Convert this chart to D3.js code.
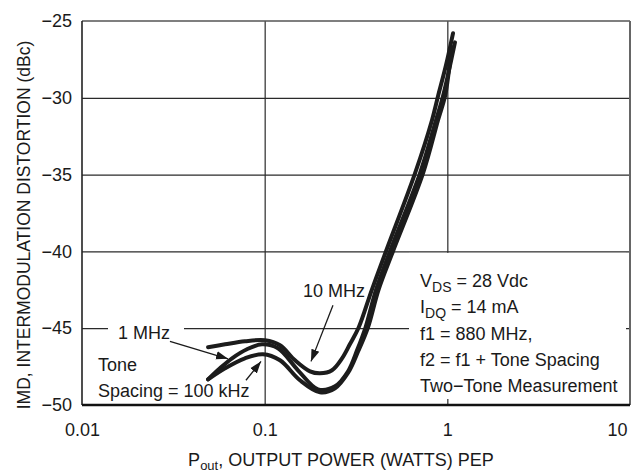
<!DOCTYPE html>
<html>
<head>
<meta charset="utf-8">
<script src="https://cdn.jsdelivr.net/npm/d3@7"></script>
<style>
  html, body { margin: 0; padding: 0; background: #fff; }
  svg { display: block; }
  text { font-family: "Liberation Sans Narrow", "Arial Narrow", "Liberation Sans", sans-serif; fill: #1a1a1a; }
</style>
</head>
<body>
<svg id="chart" width="644" height="474"></svg>
<script>
// ---- data ----
const xTicks = [0.01, 0.1, 1, 10];
const xTickLabels = ["0.01", "0.1", "1", "10"];
const yTicks = [-50, -45, -40, -35, -30, -25];

const seriesNames = ["10 MHz", "1 MHz", "100 kHz"];

const p10MHz   = [0.049, 0.0607, 0.078, 0.1004, 0.1213, 0.1466, 0.1771, 0.2008, 0.2337, 0.2640, 0.2932, 0.3275, 0.3860, 0.4615, 0.6653, 0.8241, 0.889, 0.983, 1.074];
const imd10MHz = [-46.24, -46.05, -45.85, -45.79, -46.11, -47.09, -47.81, -47.94, -47.74, -47.0, -46.03, -44.94, -42.5, -39.99, -34.92, -31.46, -29.90, -27.88, -25.80];

const p1MHz    = [0.049, 0.0569, 0.0663, 0.080, 0.0967, 0.1183, 0.1522, 0.1959, 0.2427, 0.2863, 0.3212, 0.3568, 0.4070, 0.4855, 0.7083, 0.8669, 0.9467, 1.101];
const imd1MHz  = [-48.33, -47.61, -46.96, -46.37, -46.05, -46.31, -47.74, -48.98, -48.78, -47.80, -46.41, -44.94, -42.5, -39.99, -34.92, -31.46, -29.90, -26.39];

const p100kHz   = [0.049, 0.0607, 0.078, 0.0979, 0.1213, 0.156, 0.2008, 0.2427, 0.2863, 0.3250, 0.3679, 0.4200, 0.5041, 0.7358, 0.889, 0.971, 1.021, 1.061];
const imd100kHz = [-48.33, -47.61, -46.96, -46.70, -47.09, -48.39, -49.17, -48.91, -47.90, -46.50, -44.94, -42.5, -39.99, -34.92, -31.46, -29.90, -28.21, -26.71];

const conditionLines = [
  [["V", ""], ["DS", "sub"], [" = 28 Vdc", ""]],
  [["I", ""], ["DQ", "sub"], [" = 14 mA", ""]],
  [["f1 = 880 MHz,", ""]],
  [["f2 = f1 + Tone Spacing", ""]],
  [["Two\u2212Tone Measurement", ""]]
];

// ---- layout ----
const W = 644, H = 474;
const margin = { left: 82, top: 21, right: 14, bottom: 69 };
const plotW = W - margin.left - margin.right;
const plotH = H - margin.top - margin.bottom;

const svg = d3.select("#chart");
const g = svg.append("g").attr("transform", `translate(${margin.left},${margin.top})`);

const x = d3.scaleLog().domain([0.01, 10]).range([0, plotW]);
const y = d3.scaleLinear().domain([-50, -25]).range([plotH, 0]);

// gridlines
const gridColor = "#2a2a2a";
const gx = g.append("g").attr("class", "gridx")
  .call(d3.axisBottom(x).tickValues(xTicks.slice(1, -1)).tickSize(plotH).tickFormat(""));
gx.select(".domain").remove();
gx.selectAll("line").attr("stroke", gridColor).attr("stroke-width", 1.2);

const gy = g.append("g").attr("class", "gridy")
  .call(d3.axisLeft(y).tickValues(yTicks.slice(1, -1)).tickSize(-plotW).tickFormat(""));
gy.select(".domain").remove();
gy.selectAll("line").attr("stroke", gridColor).attr("stroke-width", 1.2);

// white patches behind labels (gridline gaps)
const boxLeftPx = 409 - margin.left;
g.append("rect").attr("x", boxLeftPx).attr("y", y(-40) + 1.5)
  .attr("width", plotW - 4 - boxLeftPx).attr("height", plotH - 6 - (y(-40) + 1.5))
  .attr("fill", "#fff");
g.append("rect").attr("x", 108 - margin.left).attr("y", y(-45) - 8)
  .attr("width", 76).attr("height", 16).attr("fill", "#fff");

// frame
g.append("line").attr("x1", 0).attr("x2", plotW).attr("y1", 0).attr("y2", 0)
  .attr("stroke", "#555").attr("stroke-width", 1.6);
g.append("line").attr("x1", plotW).attr("x2", plotW).attr("y1", 0).attr("y2", plotH)
  .attr("stroke", "#666").attr("stroke-width", 2);
g.append("line").attr("x1", 0).attr("x2", 0).attr("y1", 0).attr("y2", plotH)
  .attr("stroke", "#222").attr("stroke-width", 1.6);
g.append("line").attr("x1", 0).attr("x2", plotW).attr("y1", plotH).attr("y2", plotH)
  .attr("stroke", "#111").attr("stroke-width", 2.6);

// axes labels
const ax = g.append("g").attr("transform", `translate(0,${plotH})`)
  .call(d3.axisBottom(x).tickValues(xTicks).tickSize(0).tickPadding(18)
    .tickFormat((d, i) => xTickLabels[i]));
ax.select(".domain").remove();
ax.selectAll("text").style("font-size", "18px").attr("fill", "#1a1a1a");
ax.selectAll("text").filter((d, i) => i === xTicks.length - 1).attr("text-anchor", "end").attr("dx", "-3");

const ay = g.append("g")
  .call(d3.axisLeft(y).tickValues(yTicks).tickSize(0).tickPadding(10).tickFormat(d3.format("d")));
ay.select(".domain").remove();
ay.selectAll("text").style("font-size", "18px").attr("fill", "#1a1a1a");

// axis titles
svg.append("text")
  .attr("transform", `translate(30,${margin.top + plotH / 2 + 12}) rotate(-90)`)
  .attr("text-anchor", "middle").style("font-size", "17.5px")
  .text("IMD, INTERMODULATION DISTORTION (dBc)");

const xt = svg.append("text").attr("x", margin.left + plotW / 2 - 15).attr("y", 466)
  .attr("text-anchor", "middle").style("font-size", "18px");
xt.append("tspan").text("P");
xt.append("tspan").attr("dy", 4).style("font-size", "13px").text("out");
xt.append("tspan").attr("dy", -4).text(", OUTPUT POWER (WATTS) PEP");

// curves
const line = d3.line().x(d => x(d[0])).y(d => y(d[1])).curve(d3.curveCatmullRom.alpha(0.5));
const series = [
  d3.zip(p10MHz, imd10MHz),
  d3.zip(p1MHz, imd1MHz),
  d3.zip(p100kHz, imd100kHz)
];
g.selectAll("path.curve").data(series).join("path")
  .attr("class", "curve")
  .attr("d", line)
  .attr("fill", "none").attr("stroke", "#1c1c1c").attr("stroke-width", 4)
  .attr("stroke-linecap", "round").attr("stroke-linejoin", "round");

// arrow marker
svg.append("defs").append("marker")
  .attr("id", "arrow").attr("viewBox", "0 0 10 10").attr("refX", 10).attr("refY", 5)
  .attr("markerWidth", 12).attr("markerHeight", 12).attr("markerUnits", "userSpaceOnUse")
  .attr("orient", "auto")
  .append("path").attr("d", "M0,1.5 L10,5 L0,8.5 Z").attr("fill", "#1a1a1a");

const arrows = [
  { from: [0.2366, -43.51], to: [0.1793, -47.16] }, // 10 MHz
  { from: [0.0303, -45.85], to: [0.063, -46.99] },  // 1 MHz
  { from: [0.079, -48.39], to: [0.0955, -47.16] }    // 100 kHz
];
g.selectAll("line.arrow").data(arrows).join("line")
  .attr("class", "arrow")
  .attr("x1", d => x(d.from[0])).attr("y1", d => y(d.from[1]))
  .attr("x2", d => x(d.to[0])).attr("y2", d => y(d.to[1]))
  .attr("stroke", "#1a1a1a").attr("stroke-width", 1.3)
  .attr("marker-end", "url(#arrow)");

// annotation labels
const labelFont = "18px";
svg.append("text").attr("x", 303).attr("y", 297).style("font-size", labelFont).text(seriesNames[0]);
svg.append("text").attr("x", 118).attr("y", 339).style("font-size", labelFont).text(seriesNames[1]);
svg.append("text").attr("x", 98).attr("y", 371).style("font-size", labelFont).text("Tone");
svg.append("text").attr("x", 98).attr("y", 397).style("font-size", labelFont).text("Spacing = " + seriesNames[2]);

// conditions block
const baseY = 287, lh = 26.3;
conditionLines.forEach((parts, i) => {
  const t = svg.append("text").attr("x", 420).attr("y", baseY + i * lh).style("font-size", labelFont);
  let shifted = false;
  parts.forEach(([s, kind]) => {
    const ts = t.append("tspan").text(s);
    if (kind === "sub") { ts.attr("dy", 5).style("font-size", "14px"); shifted = true; }
    else if (shifted) { ts.attr("dy", -5); shifted = false; }
  });
});
</script>
</body>
</html>
